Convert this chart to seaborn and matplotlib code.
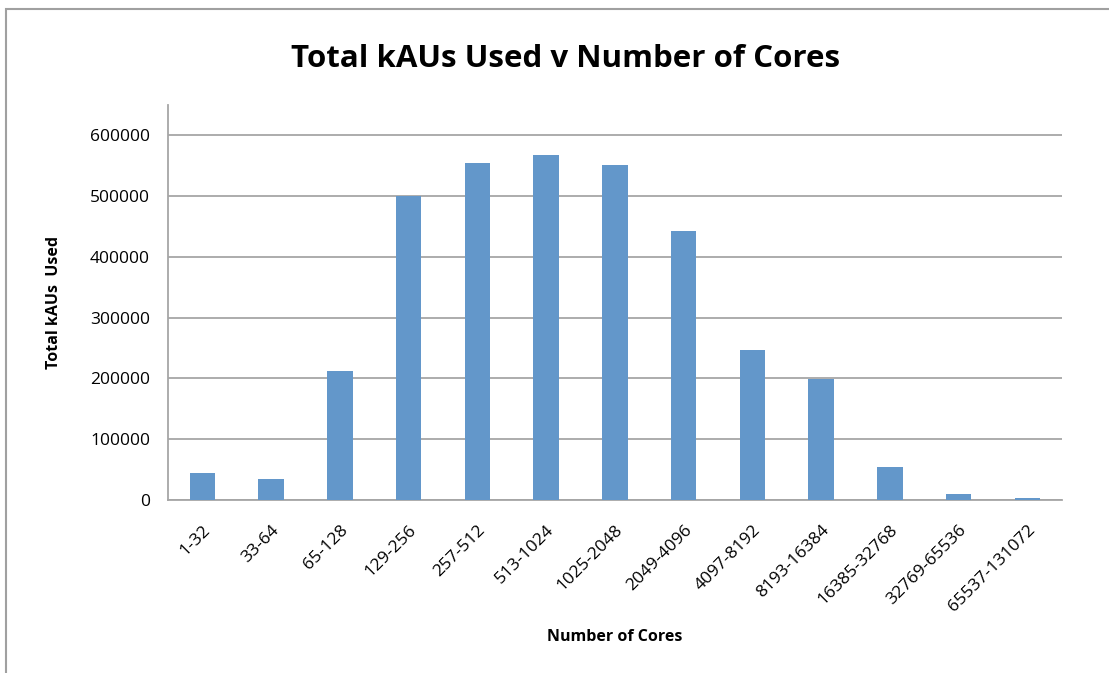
import pandas as pd
import matplotlib.pyplot as plt
import seaborn as sns
from matplotlib.patches import Rectangle

core_ranges = ["1-32", "33-64", "65-128", "129-256", "257-512", "513-1024",
               "1025-2048", "2049-4096", "4097-8192", "8193-16384",
               "16385-32768", "32769-65536", "65537-131072"]
kaus_used = [45000, 34000, 212500, 501000, 555000, 568000,
             552000, 442000, 247500, 198500, 55000, 10500, 2700]
y_ticks = [0, 100000, 200000, 300000, 400000, 500000, 600000]

df = pd.DataFrame({"cores": core_ranges, "kaus": kaus_used})

sns.set_style("white")
plt.rcParams["font.family"] = ["Open Sans", "DejaVu Sans"]
plt.rcParams["text.color"] = "black"
plt.rcParams["xtick.color"] = "black"
plt.rcParams["ytick.color"] = "black"
plt.rcParams["axes.labelcolor"] = "black"

fig = plt.figure(figsize=(11.09, 6.73), dpi=100)
ax = fig.add_axes([0.1515, 0.257, 0.806, 0.587])

sns.barplot(data=df, x="cores", y="kaus", color="#6397CA", width=0.37,
            saturation=1, linewidth=0, ax=ax, zorder=3)

ax.set_ylim(0, 650000)
ax.set_yticks(y_ticks)
ax.set_yticklabels([str(v) for v in y_ticks], fontsize=12.5)
ax.set_xlim(-0.5, len(core_ranges) - 0.5)
ax.grid(axis="y", color="#A6A6A6", linewidth=1.3, zorder=0)
ax.set_xticks(range(len(core_ranges)))
ax.set_xticklabels(core_ranges, rotation=45, ha="right", rotation_mode="anchor",
                   fontsize=12.5)
ax.tick_params(axis="y", length=5, color="#A6A6A6", width=1.3, pad=8)
ax.tick_params(axis="x", length=0, pad=16)

for side in ["top", "right"]:
    ax.spines[side].set_visible(False)
for side in ["left", "bottom"]:
    ax.spines[side].set_color("#A6A6A6")
    ax.spines[side].set_linewidth(1.3)

ax.set_xlabel("Number of Cores", fontsize=11.5, fontweight="bold", labelpad=10)
ax.set_ylabel("Total kAUs  Used", fontsize=11.5, fontweight="bold", labelpad=20)
fig.suptitle("Total kAUs Used v Number of Cores", fontsize=22.5, fontweight="bold",
             x=0.51, y=0.934)

# chart border like the spreadsheet chart frame
fig.patches.append(Rectangle((0.005, -0.05), 1.2, 1.036, transform=fig.transFigure,
                             fill=False, edgecolor="#A0A0A0", linewidth=1.5))

plt.savefig("out.png", dpi=100)
plt.close()
